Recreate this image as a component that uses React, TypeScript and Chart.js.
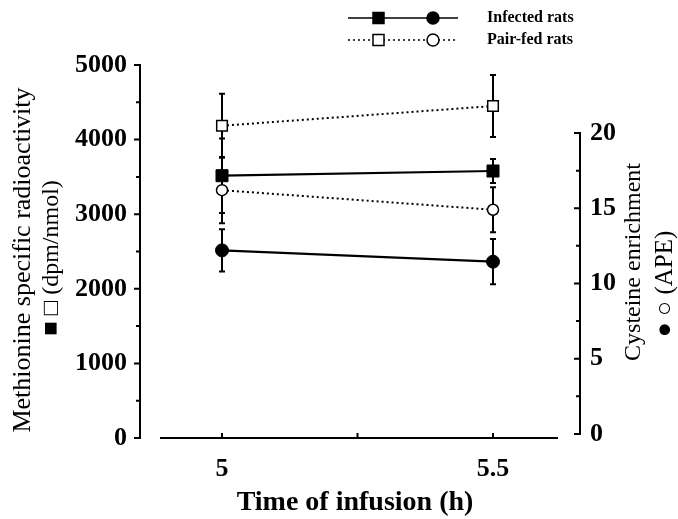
import React, { useEffect, useRef } from "react";
import { Chart, registerables } from "chart.js";

Chart.register(...registerables);

// ---- data ----
const times = [5, 5.5];
const infectedMethionine = [3516, 3579];
const infectedMethionineErr = [500, 160];
const pairFedMethionine = [4186, 4450];
const pairFedMethionineErr = [430, 415];
const infectedCysteine = [12.2, 11.45];
const infectedCysteineErr = [1.4, 1.5];
const pairFedCysteine = [16.2, 14.9];
const pairFedCysteineErr = [2.2, 1.5];

const leftTicks = [0, 500, 1000, 1500, 2000, 2500, 3000, 3500, 4000, 4500, 5000];
const rightTicks = [0, 2.5, 5, 7.5, 10, 12.5, 15, 17.5, 20];
const xTicks = [5, 5.25, 5.5];
const xTickLabels = ["5", "", "5.5"];

const legendLabels = ["Infected rats", "Pair-fed rats"];
const xTitle = "Time of infusion (h)";
const leftTitle = ["Methionine specific radioactivity", "\u25A0 \u25A1 (dpm/nmol)"];
const rightTitle = ["Cysteine enrichment", "\u25CF \u25CB (APE)"];

const SERIF = "'Liberation Serif', 'Times New Roman', serif";

const toPts = (vals: number[]) => vals.map((v, i) => ({ x: times[i], y: v }));

const errorBarPlugin = {
  id: "errorBars",
  beforeDatasetsDraw(chart: any) {
    const ctx = chart.ctx;
    chart.data.datasets.forEach((ds: any, di: number) => {
      const meta = chart.getDatasetMeta(di);
      const ys = chart.scales[ds.yAxisID];
      const errs: number[] = ds.errors;
      if (!errs) return;
      ctx.save();
      ctx.strokeStyle = "#000";
      ctx.lineWidth = 2;
      ctx.setLineDash([]);
      meta.data.forEach((pt: any, i: number) => {
        const v = ds.data[i].y;
        const top = ys.getPixelForValue(v + errs[i]);
        const bot = ys.getPixelForValue(v - errs[i]);
        const x = pt.x;
        ctx.beginPath();
        ctx.moveTo(x, top);
        ctx.lineTo(x, bot);
        ctx.moveTo(x - 3, top);
        ctx.lineTo(x + 3, top);
        ctx.moveTo(x - 3, bot);
        ctx.lineTo(x + 3, bot);
        ctx.stroke();
      });
      ctx.restore();
    });
  },
};

const decorPlugin = {
  id: "decor",
  afterDraw(chart: any) {
    const ctx = chart.ctx;
    const ca = chart.chartArea;
    const xs = chart.scales.x;
    const yL = chart.scales.yL;
    const yR = chart.scales.yR;
    ctx.save();
    ctx.strokeStyle = "#000";
    ctx.fillStyle = "#000";
    ctx.lineWidth = 2;
    ctx.setLineDash([]);

    // left axis
    const lx = ca.left;
    ctx.beginPath();
    ctx.moveTo(lx, yL.getPixelForValue(0) + 1);
    ctx.lineTo(lx, yL.getPixelForValue(5000) - 1);
    leftTicks.forEach((v) => {
      const y = yL.getPixelForValue(v);
      const len = v % 1000 === 0 ? 6 : 4;
      ctx.moveTo(lx, y);
      ctx.lineTo(lx - len, y);
    });
    ctx.stroke();

    // right axis
    const rx = ca.right;
    ctx.beginPath();
    ctx.moveTo(rx, yR.getPixelForValue(0) + 1);
    ctx.lineTo(rx, yR.getPixelForValue(20) - 1);
    rightTicks.forEach((v) => {
      const y = yR.getPixelForValue(v);
      const len = v % 5 === 0 ? 6 : 4;
      ctx.moveTo(rx, y);
      ctx.lineTo(rx - len, y);
    });
    ctx.stroke();

    // x axis
    const by = ca.bottom;
    ctx.beginPath();
    ctx.moveTo(ca.left + 20, by);
    ctx.lineTo(ca.right - 22, by);
    xTicks.forEach((v) => {
      const x = xs.getPixelForValue(v);
      ctx.moveTo(x, by);
      ctx.lineTo(x, by - 5);
    });
    ctx.stroke();

    // axis titles
    const rot = (text: string, x: number, y: number, font: string) => {
      ctx.save();
      ctx.translate(x, y);
      ctx.rotate(-Math.PI / 2);
      ctx.font = font;
      ctx.textAlign = "center";
      ctx.textBaseline = "middle";
      ctx.fillText(text, 0, 0);
      ctx.restore();
    };
    rot(leftTitle[0], 23, 260, `26px ${SERIF}`);
    rot(leftTitle[1], 52, 258, `24px ${SERIF}`);
    rot(rightTitle[0], 634, 262, `24px ${SERIF}`);
    rot(rightTitle[1], 665, 284, `25px ${SERIF}`);

    ctx.font = `bold 28px ${SERIF}`;
    ctx.textAlign = "center";
    ctx.textBaseline = "middle";
    ctx.fillText(xTitle, 355, 503);

    // legend
    const rows = [
      { y: 18, dash: [] as number[], fill: "#000" },
      { y: 40, dash: [2, 3], fill: "#fff" },
    ];
    rows.forEach((r, i) => {
      ctx.save();
      ctx.lineWidth = 1.5;
      ctx.setLineDash(r.dash);
      ctx.beginPath();
      ctx.moveTo(348, r.y);
      ctx.lineTo(458, r.y);
      ctx.stroke();
      ctx.setLineDash([]);
      ctx.fillStyle = r.fill;
      ctx.lineWidth = 1.5;
      ctx.fillRect(373, r.y - 5.5, 11, 11);
      ctx.strokeRect(373, r.y - 5.5, 11, 11);
      ctx.beginPath();
      ctx.arc(433, r.y, 6, 0, Math.PI * 2);
      ctx.fill();
      ctx.stroke();
      ctx.restore();
      ctx.font = `bold 16px ${SERIF}`;
      ctx.textAlign = "left";
      ctx.textBaseline = "middle";
      ctx.fillStyle = "#000";
      ctx.fillText(legendLabels[i], 487, r.y);
    });
    ctx.restore();
  },
};

export default function App() {
  const canvasRef = useRef<HTMLCanvasElement | null>(null);

  useEffect(() => {
    document.body.style.margin = "0";
    const canvas = canvasRef.current;
    if (!canvas) return;
    const tickFont = { family: SERIF, size: 26, weight: "bold" as const };
    const chart = new Chart(canvas, {
      type: "line",
      data: {
        datasets: [
          {
            label: "Infected methionine",
            data: toPts(infectedMethionine),
            errors: infectedMethionineErr,
            yAxisID: "yL",
            borderColor: "#000",
            borderWidth: 2.2,
            pointStyle: "rect",
            pointRadius: 8.5,
            pointBackgroundColor: "#000",
            pointBorderColor: "#000",
            pointBorderWidth: 1,
          } as any,
          {
            label: "Pair-fed methionine",
            data: toPts(pairFedMethionine),
            errors: pairFedMethionineErr,
            yAxisID: "yL",
            borderColor: "#000",
            borderWidth: 2,
            borderDash: [2, 3],
            pointStyle: "rect",
            pointRadius: 7.5,
            pointBackgroundColor: "#fff",
            pointBorderColor: "#000",
            pointBorderWidth: 1.5,
          } as any,
          {
            label: "Infected cysteine",
            data: toPts(infectedCysteine),
            errors: infectedCysteineErr,
            yAxisID: "yR",
            borderColor: "#000",
            borderWidth: 2.2,
            pointStyle: "circle",
            pointRadius: 6.5,
            pointBackgroundColor: "#000",
            pointBorderColor: "#000",
            pointBorderWidth: 1,
          } as any,
          {
            label: "Pair-fed cysteine",
            data: toPts(pairFedCysteine),
            errors: pairFedCysteineErr,
            yAxisID: "yR",
            borderColor: "#000",
            borderWidth: 2,
            borderDash: [2, 3],
            pointStyle: "circle",
            pointRadius: 5.5,
            pointBackgroundColor: "#fff",
            pointBorderColor: "#000",
            pointBorderWidth: 1.5,
          } as any,
        ],
      },
      options: {
        animation: false,
        responsive: false,
        devicePixelRatio: 1,
        layout: { padding: { top: 65, left: 0, right: 0, bottom: 0 } },
        plugins: { legend: { display: false }, tooltip: { enabled: false } },
        scales: {
          x: {
            type: "linear",
            min: 4.8487,
            max: 5.6605,
            grid: { display: false, drawTicks: false },
            border: { display: false },
            afterBuildTicks: (s: any) => {
              s.ticks = xTicks.map((v) => ({ value: v }));
            },
            afterFit: (s: any) => {
              s.height = 81;
            },
            ticks: {
              autoSkip: false,
              maxRotation: 0,
              padding: 16,
              color: "#000",
              font: tickFont,
              callback: (_v: any, i: number) => xTickLabels[i],
            },
          },
          yL: {
            type: "linear",
            position: "left",
            min: 0,
            max: 5000,
            grid: { display: false, drawTicks: false },
            border: { display: false },
            afterBuildTicks: (s: any) => {
              s.ticks = leftTicks.map((v) => ({ value: v }));
            },
            afterFit: (s: any) => {
              s.width = 140;
            },
            ticks: {
              autoSkip: false,
              padding: 13,
              color: "#000",
              font: tickFont,
              callback: (v: any) => (Number(v) % 1000 === 0 ? String(v) : ""),
            },
          },
          yR: {
            type: "linear",
            position: "right",
            min: -0.27,
            max: 24.52,
            grid: { display: false, drawTicks: false },
            border: { display: false },
            afterBuildTicks: (s: any) => {
              s.ticks = rightTicks.map((v) => ({ value: v }));
            },
            afterFit: (s: any) => {
              s.width = 98;
            },
            ticks: {
              autoSkip: false,
              padding: 10,
              color: "#000",
              font: tickFont,
              callback: (v: any) => (Number(v) % 5 === 0 ? String(v) : ""),
            },
          },
        },
      } as any,
      plugins: [errorBarPlugin, decorPlugin],
    });
    return () => chart.destroy();
  }, []);

  return (
    <div style={{ width: 678, height: 519, background: "#fff" }}>
      <canvas ref={canvasRef} width={678} height={519} style={{ display: "block" }} />
    </div>
  );
}
